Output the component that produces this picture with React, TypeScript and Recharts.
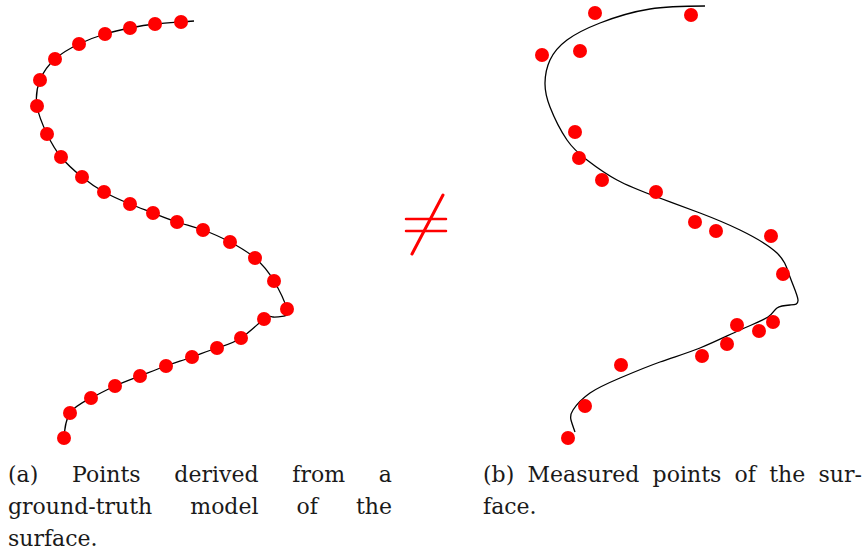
import { Scatter, ScatterChart, XAxis, YAxis } from "recharts";

// page-space samples (x right, y down), panel (a): points from the ground-truth model
const modelPoints = [
  { x: 181, y: 22 }, { x: 155, y: 24 }, { x: 130, y: 28 }, { x: 105, y: 34 },
  { x: 79, y: 44 }, { x: 55, y: 59 }, { x: 40, y: 80 }, { x: 37, y: 106 },
  { x: 47, y: 134 }, { x: 61, y: 157 }, { x: 82, y: 177 }, { x: 104, y: 192 },
  { x: 130, y: 204 }, { x: 153, y: 213 }, { x: 177, y: 222 }, { x: 203, y: 230 },
  { x: 230, y: 242 }, { x: 255, y: 258 }, { x: 274, y: 281 }, { x: 287, y: 309 },
  { x: 264, y: 319 }, { x: 241, y: 338 }, { x: 217, y: 348 }, { x: 192, y: 357 },
  { x: 166, y: 366 }, { x: 140, y: 376 }, { x: 115, y: 386 }, { x: 91, y: 398 },
  { x: 70, y: 413 }, { x: 64, y: 438 },
];

const modelCurve = [
  { x: 194, y: 21 }, ...modelPoints.slice(0, 20),
  { x: 284, y: 316 }, { x: 273, y: 317 },
  ...modelPoints.slice(20),
];

// panel (b): measured points and the surface fitted through them
const measuredPoints = [
  { x: 595, y: 13 }, { x: 691, y: 15 }, { x: 542, y: 55 }, { x: 580, y: 51 },
  { x: 575, y: 132 }, { x: 579, y: 158 }, { x: 602, y: 180 }, { x: 656, y: 192 },
  { x: 695, y: 222 }, { x: 716, y: 231 }, { x: 771, y: 236 }, { x: 783, y: 274 },
  { x: 773, y: 322 }, { x: 759, y: 331 }, { x: 737, y: 325 }, { x: 727, y: 344 },
  { x: 702, y: 356 }, { x: 621, y: 365 }, { x: 585, y: 406 }, { x: 568, y: 438 },
];

const surfaceCurve = [
  { x: 705, y: 6 }, { x: 650, y: 9 }, { x: 600, y: 23 }, { x: 567, y: 40 },
  { x: 550, y: 60 }, { x: 545, y: 83 }, { x: 550, y: 107 }, { x: 567, y: 140 },
  { x: 587, y: 160 }, { x: 617, y: 180 }, { x: 657, y: 197 }, { x: 700, y: 213 },
  { x: 740, y: 230 }, { x: 777, y: 253 }, { x: 790, y: 277 }, { x: 798, y: 300 },
  { x: 790, y: 305 }, { x: 777, y: 308 }, { x: 768, y: 317 }, { x: 740, y: 330 },
  { x: 700, y: 348 }, { x: 660, y: 362 }, { x: 620, y: 378 }, { x: 590, y: 393 },
  { x: 573, y: 410 }, { x: 571, y: 420 }, { x: 575, y: 432 },
];

const captionA = ["(a) Points derived from a", "ground-truth model of the", "surface."];
const captionB = ["(b) Measured points of the sur-", "face."];

const RED = "#ff0000";
const W = 433;
const H = 454;

const dot = (p: any) => <circle cx={p.cx} cy={p.cy} r={7} fill={RED} />;
const none = () => <g />;

function Panel({
  left,
  points,
  curve,
}: {
  left: number;
  points: { x: number; y: number }[];
  curve: { x: number; y: number }[];
}) {
  return (
    <div style={{ position: "absolute", left, top: 0 }}>
      <ScatterChart width={W} height={H} margin={{ top: 0, right: 0, bottom: 0, left: 0 }}>
        <XAxis type="number" dataKey="x" domain={[left, left + W]} hide />
        <YAxis type="number" dataKey="y" domain={[0, H]} reversed hide />
        <Scatter
          data={curve}
          line={{ stroke: "#000", strokeWidth: 1.3 }}
          lineJointType="natural"
          shape={none}
          isAnimationActive={false}
        />
        <Scatter data={points} shape={dot} isAnimationActive={false} />
      </ScatterChart>
    </div>
  );
}

function Caption({ left, width, lines }: { left: number; width: number; lines: string[] }) {
  return (
    <div
      style={{
        position: "absolute",
        left,
        top: 459,
        width,
        fontFamily: "'DejaVu Serif', serif",
        fontSize: 22,
        lineHeight: "32px",
        color: "#1a1a1a",
      }}
    >
      {lines.map((l, i) => (
        <div
          key={i}
          style={{
            whiteSpace: "nowrap",
            textAlign: "justify",
            textAlignLast: i < lines.length - 1 ? "justify" : "left",
          }}
        >
          {l}
        </div>
      ))}
    </div>
  );
}

export default function App() {
  return (
    <div style={{ position: "absolute", left: 0, top: 0, width: 866, height: 554, background: "#fff" }}>
      <Panel left={0} points={modelPoints} curve={modelCurve} />
      <Panel left={W} points={measuredPoints} curve={surfaceCurve} />
      <svg style={{ position: "absolute", left: 0, top: 0 }} width={866} height={454}>
        <g stroke={RED} strokeLinecap="round">
          <line x1={406} y1={219} x2={446} y2={219} strokeWidth={2.5} />
          <line x1={406} y1={231} x2={446} y2={231} strokeWidth={2.5} />
          <line x1={412} y1={254} x2={443} y2={195} strokeWidth={3} />
        </g>
      </svg>
      <Caption left={8} width={384} lines={captionA} />
      <Caption left={483} width={379} lines={captionB} />
    </div>
  );
}
